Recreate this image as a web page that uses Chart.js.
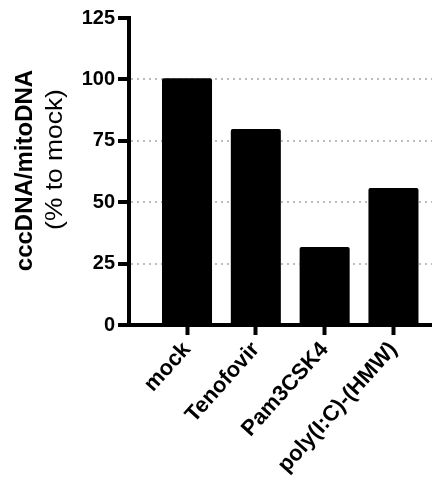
<!DOCTYPE html>
<html>
<head>
<meta charset="utf-8">
<script src="https://cdn.jsdelivr.net/npm/chart.js@4"></script>
<style>
  html, body { margin: 0; padding: 0; background: #fff; overflow: hidden; }
  #wrap { width: 432px; height: 481px; }
</style>
</head>
<body>
<div id="wrap"><canvas id="chart" width="432" height="481"></canvas></div>
<script>
// data
const categories = ["mock", "Tenofovir", "Pam3CSK4", "poly(I:C)-(HMW)"];
const values = [100.5, 79.8, 31.8, 55.8];
const yTicks = [0, 25, 50, 75, 100, 125];
const yTitle = "cccDNA/mitoDNA";
const ySubTitle = "(% to mock)";

// y-axis titles, two lines with different weights
const yTitlePlugin = {
  id: "yTitle",
  afterDraw(chart) {
    const { ctx, chartArea } = chart;
    const midY = (chartArea.top + chartArea.bottom) / 2;
    ctx.save();
    ctx.fillStyle = "#000";
    ctx.textAlign = "center";
    ctx.textBaseline = "middle";
    ctx.translate(25, midY - 1);
    ctx.rotate(-Math.PI / 2);
    ctx.font = "bold 24px 'Liberation Sans', Arial, sans-serif";
    ctx.fillText(yTitle, 0, 0);
    ctx.font = "24px 'Liberation Sans', Arial, sans-serif";
    ctx.scale(1.1, 1);
    ctx.fillText(ySubTitle, 10, 30);
    ctx.restore();
  },
};

const ctx = document.getElementById("chart").getContext("2d");
new Chart(ctx, {
  type: "bar",
  data: {
    datasets: [
      {
        data: categories.map((c, i) => ({ x: i, y: values[i] })),
        backgroundColor: "#000",
        borderColor: "#000",
        borderWidth: 0,
        borderRadius: { topLeft: 2, topRight: 2 },
        barPercentage: 0.727,
        categoryPercentage: 1,
      },
    ],
  },
  options: {
    responsive: false,
    animation: false,
    layout: { padding: { top: 18, right: 0, left: 0, bottom: 0 } },
    plugins: { legend: { display: false }, tooltip: { enabled: false } },
    scales: {
      x: {
        type: "linear",
        offset: false,
        min: -0.843,
        max: 3.56,
        afterBuildTicks: (axis) => {
          axis.ticks = categories.map((c, i) => ({ value: i }));
        },
        afterFit: (axis) => { axis.height = 156; },
        ticks: {
          callback: (v) => categories[v],
          minRotation: 48,
          maxRotation: 48,
          padding: 2,
          color: "#000",
          font: { family: "'Liberation Sans', Arial", size: 22, weight: "bold" },
        },
        grid: { offset: false, drawOnChartArea: false, tickLength: 10, tickWidth: 4, tickColor: "#000" },
        border: { color: "#000", width: 4 },
      },
      y: {
        min: 0,
        max: 125,
        afterBuildTicks: (axis) => {
          axis.ticks = yTicks.map((v) => ({ value: v }));
        },
        afterFit: (axis) => { axis.width = 129; },
        ticks: {
          padding: 3,
          color: "#000",
          font: { family: "'Liberation Sans', Arial", size: 20, weight: "bold" },
        },
        grid: {
          color: (c) => (c.tick && (c.tick.value === 0 || c.tick.value === 125) ? "rgba(0,0,0,0)" : "#bdbdbd"),
          lineWidth: 2,
          tickLength: 11,
          tickWidth: 4,
          tickColor: "#000",
        },
        border: { color: "#000", width: 4, dash: [2, 4] },
      },
    },
  },
  plugins: [yTitlePlugin],
});
</script>
</body>
</html>
